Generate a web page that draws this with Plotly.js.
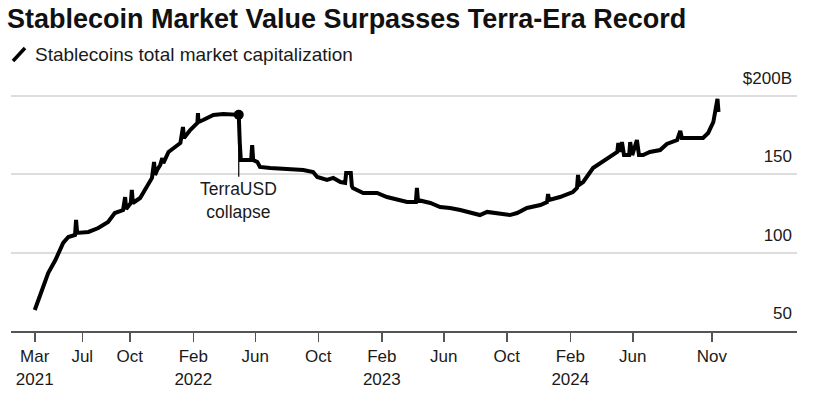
<!DOCTYPE html>
<html>
<head>
<meta charset="utf-8">
<script src="https://cdn.plot.ly/plotly-3.0.1.min.js"></script>
<style>
html,body{margin:0;padding:0;background:#fff;}
#chart{width:825px;height:400px;}
</style>
</head>
<body>
<div id="chart"></div>
<script>
// Stablecoins total market capitalization, $B
const dates = [
'2021-03-31','2021-04-03','2021-04-07','2021-04-16','2021-04-26','2021-05-10','2021-05-19','2021-05-25',
'2021-06-04','2021-06-17','2021-06-19','2021-06-21','2021-07-13','2021-08-01','2021-08-20','2021-09-02',
'2021-09-18','2021-09-22','2021-09-24','2021-10-03','2021-10-05','2021-10-07','2021-10-21','2021-11-03',
'2021-11-13','2021-11-17','2021-11-19','2021-11-23','2021-11-29','2021-12-03','2021-12-05','2021-12-15',
'2021-12-28','2022-01-07','2022-01-12','2022-01-14','2022-01-26','2022-02-09','2022-02-10','2022-02-11',
'2022-02-20','2022-03-12','2022-03-31','2022-04-19','2022-04-30','2022-05-02','2022-05-04','2022-05-18',
'2022-05-24','2022-05-26','2022-05-28','2022-06-05','2022-06-10','2022-06-30','2022-08-02','2022-09-02',
'2022-09-21','2022-09-29','2022-10-18','2022-10-30','2022-11-13','2022-11-22','2022-11-24','2022-12-03',
'2022-12-05','2022-12-07','2022-12-27','2023-01-23','2023-02-11','2023-03-03','2023-03-22','2023-04-08',
'2023-04-10','2023-04-12','2023-05-06','2023-05-25','2023-06-13','2023-07-03','2023-07-22','2023-08-10',
'2023-08-24','2023-09-12','2023-10-07','2023-10-21','2023-11-09','2023-12-05','2023-12-18','2023-12-20',
'2023-12-22','2024-01-12','2024-02-06','2024-02-14','2024-02-16','2024-02-18','2024-02-26','2024-03-16',
'2024-04-04','2024-04-24','2024-05-02','2024-05-04','2024-05-07','2024-05-11','2024-05-15','2024-05-25',
'2024-05-27','2024-05-31','2024-06-09','2024-06-13','2024-06-21','2024-07-04','2024-07-24','2024-08-06',
'2024-08-26','2024-09-01','2024-09-04','2024-10-15','2024-10-25','2024-11-04','2024-11-10','2024-11-12',
'2024-11-14'
];
const marketCap = [
63.4,66.0,69.8,78.1,87.0,95.3,101.7,106.2,
110.0,111.3,120.9,112.6,113.2,115.7,119.6,125.3,
127.2,135.5,127.9,131.7,140.0,131.7,134.9,141.9,
147.7,157.9,149.6,152.8,156.0,160.4,157.2,164.3,
167.4,170.0,180.2,173.2,178.3,182.8,189.1,183.4,
184.7,187.9,188.5,188.5,188.0,170.0,159.1,159.1,
159.1,168.7,159.1,157.9,154.7,154.0,153.4,152.8,
151.5,148.3,146.4,147.7,145.1,144.5,150.9,150.9,
142.6,141.3,138.1,138.1,135.5,133.6,132.3,132.3,
141.3,133.6,131.7,129.1,128.5,127.2,125.3,124.0,
126.0,125.3,124.0,125.3,128.5,130.4,132.3,137.4,
133.6,135.5,138.7,141.3,149.6,143.2,145.1,154.0,
157.9,162.3,164.3,170.0,164.3,170.6,162.3,162.3,
170.6,162.3,171.9,162.3,162.3,164.3,165.5,169.4,
171.9,177.7,173.2,173.2,176.4,183.4,192.3,198.1,
189.8
];

// Event annotation
const eventDate = '2022-04-30';
const eventLabel = 'TerraUSD<br>collapse';
const eventValue = marketCap[dates.indexOf(eventDate)];

// Axis ticks
const xTickVals = ['2021-03-31','2021-07-01','2021-10-01','2022-02-01','2022-06-01','2022-10-01',
                   '2023-02-01','2023-06-01','2023-10-01','2024-02-01','2024-06-01','2024-11-01'];
const xTickText = ['Mar<br>2021','Jul','Oct','Feb<br>2022','Jun','Oct',
                   'Feb<br>2023','Jun','Oct','Feb<br>2024','Jun','Nov'];
const yTickVals = [50,100,150,200];
const yTickText = ['50','100','150','$200B'];

const titleText = 'Stablecoin Market Value Surpasses Terra-Era Record';
const seriesName = 'Stablecoins total market capitalization';

const FONT = '"Liberation Sans", Arial, sans-serif';

// plot area geometry (pixels)
const PLOT_TOP = 60, PLOT_BOTTOM = 331, PLOT_LEFT = 11, PLOT_RIGHT = 797;
const PH = PLOT_BOTTOM - PLOT_TOP, PW = PLOT_RIGHT - PLOT_LEFT;
const py = p => (PLOT_BOTTOM - p) / PH;
const px = p => (p - PLOT_LEFT) / PW;

const traces = [
  {
    x: dates, y: marketCap, type: 'scatter', mode: 'lines', name: seriesName,
    line: {color: '#000000', width: 4}, hoverinfo: 'x+y'
  },
  {
    x: [eventDate], y: [eventValue], type: 'scatter', mode: 'markers',
    marker: {color: '#000000', size: 10}, showlegend: false, hoverinfo: 'skip'
  }
];

const layout = {
  width: 825, height: 400,
  margin: {l: PLOT_LEFT, r: 825 - PLOT_RIGHT, t: PLOT_TOP, b: 400 - PLOT_BOTTOM, pad: 0},
  paper_bgcolor: '#ffffff', plot_bgcolor: '#ffffff',
  showlegend: false,
  font: {family: FONT, size: 17, color: '#1a1a1a'},
  title: {
    text: '<b>' + titleText + '</b>',
    x: 7/825, xanchor: 'left', xref: 'container',
    y: 1 - 9/400, yanchor: 'top', yref: 'container',
    font: {family: FONT, size: 27, color: '#111111'}
  },
  xaxis: {
    type: 'date',
    range: ['2021-02-13', '2025-04-15'],
    tickmode: 'array', tickvals: xTickVals, ticktext: xTickText,
    ticks: 'outside', ticklen: 9, tickwidth: 1.5, tickcolor: '#555555',
    showline: true, linecolor: '#555555', linewidth: 2,
    showgrid: false, zeroline: false,
    tickfont: {family: FONT, size: 17, color: '#1a1a1a'},
    fixedrange: true
  },
  yaxis: {
    range: [50, 50 + PH / 1.5667],
    side: 'right',
    tickmode: 'array', tickvals: yTickVals, ticktext: yTickText,
    ticklabelposition: 'inside',
    ticklabelshift: -18,
    ticklabelstandoff: 2,
    ticks: '',
    showgrid: true, gridcolor: '#dddddd', gridwidth: 2,
    showline: false, zeroline: false,
    tickfont: {family: FONT, size: 17, color: '#1a1a1a'},
    fixedrange: true
  },
  shapes: [
    {type: 'line', xref: 'paper', yref: 'paper',
     x0: px(13), y0: py(61), x1: px(25), y1: py(48),
     line: {color: '#000000', width: 3.5}}
  ],
  annotations: [
    {xref: 'paper', yref: 'paper', x: px(33), y: py(54),
     xanchor: 'left', yanchor: 'middle', showarrow: false,
     text: seriesName, font: {family: FONT, size: 19, color: '#1a1a1a'}},
    {x: eventDate, y: eventValue, xref: 'x', yref: 'y',
     text: eventLabel, showarrow: true, arrowhead: 0, arrowwidth: 1.2, arrowcolor: '#000000',
     ax: 0, ay: 62, yanchor: 'top', align: 'center', standoff: 0,
     font: {family: FONT, size: 17.5, color: '#1a1a1a'}}
  ]
};

Plotly.newPlot('chart', traces, layout, {displayModeBar: false, staticPlot: true});
</script>
</body>
</html>
